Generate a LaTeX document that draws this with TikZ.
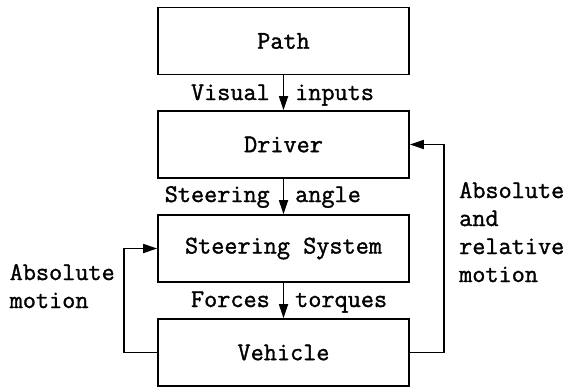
\documentclass[tikz,border=0pt]{standalone}
\usepackage{fontspec}
\usetikzlibrary{arrows.meta}
\newfontfamily\ttheavy{Latin Modern Mono}[FakeBold=1.3]
\newcommand\ttlarge{\ttheavy\fontsize{25.5}{28}\selectfont}
\begin{document}
\begin{tikzpicture}[x=1pt,y=-1pt,
  box/.style={draw, line width=1.7pt, minimum width=251pt, minimum height=67pt, inner sep=0pt, font=\ttlarge},
  lbl/.style={inner sep=0pt, font=\ttlarge},
  conn/.style={line width=1.7pt, -{Triangle[length=14pt,width=9pt]}}]
\useasboundingbox (0,0) rectangle (569,388);
\node[box] (path) at (283.5,41) {Path};
\node[box] (driver) at (283.5,144.5) {Driver};
\node[box] (steer) at (283.5,248.5) {Steering System};
\node[box] (veh) at (283.5,352.5) {Vehicle};
\draw[conn] (path.south) -- (driver.north);
\draw[conn] (driver.south) -- (steer.north);
\draw[conn] (steer.south) -- (veh.north);
\coordinate (rtop) at (444,144.5);
\coordinate (ltop) at (124,248.5);
\draw[conn] (veh.east) -| (rtop) -- (driver.east);
\draw[conn] (veh.west) -| (ltop) -- (steer.west);
\node[lbl, anchor=base east] (vis) at (270,100) {Visual};
\node[lbl, anchor=base west] (inp) at (295,100) {inputs};
\node[lbl, anchor=base east] (ste) at (270,202) {Steering};
\node[lbl, anchor=base west] (ang) at (295,202) {angle};
\node[lbl, anchor=base east] (for) at (270,307) {Forces};
\node[lbl, anchor=base west] (tor) at (295,307) {torques};
\node[lbl, anchor=base west] (r1) at (459,198) {Absolute};
\node[lbl, anchor=base west] (r2) at (459,226) {and};
\node[lbl, anchor=base west] (r3) at (459,254) {relative};
\node[lbl, anchor=base west] (r4) at (459,282) {motion};
\node[lbl, anchor=base west] (l1) at (9.5,280) {Absolute};
\node[lbl, anchor=base west] (l2) at (9.5,308) {motion};
\end{tikzpicture}
\end{document}
